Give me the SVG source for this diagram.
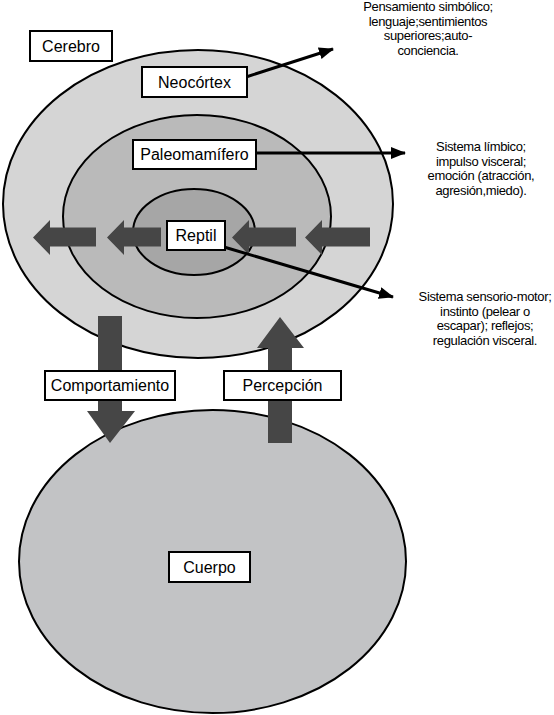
<svg xmlns="http://www.w3.org/2000/svg" width="554" height="715" viewBox="0 0 554 715">
<defs>
<style>
.ell{stroke:#000;stroke-width:2}
.box{fill:#fff;stroke:#000;stroke-width:2}
.lbl{font-family:"Liberation Sans",Arial,sans-serif;font-size:16px;fill:#000;text-anchor:middle}
.note{font-family:"Liberation Sans",Arial,sans-serif;font-size:13px;fill:#000;text-anchor:middle;letter-spacing:-0.35px}
.fat{fill:#464646}
.line{stroke:#000;stroke-width:3;fill:none;marker-end:url(#ah)}
</style>
<marker id="ah" markerUnits="userSpaceOnUse" markerWidth="16" markerHeight="12" refX="14" refY="6" orient="auto">
<path d="M0,0 L15,6 L0,12 Z" fill="#000"/>
</marker>
</defs>
<rect width="554" height="715" fill="#fff"/>

<g id="cerebro">
<ellipse class="ell" cx="198" cy="204" rx="195" ry="154" fill="#d5d5d5"/>
</g>
<g id="paleomamifero">
<ellipse class="ell" cx="197" cy="216.5" rx="134" ry="101.5" fill="#bababa"/>
</g>
<g id="reptil">
<ellipse class="ell" cx="194" cy="232" rx="61" ry="43" fill="#a6a6a6"/>
</g>
<g id="cuerpo">
<ellipse class="ell" cx="212.5" cy="561.5" rx="193.5" ry="151.5" fill="#c2c3c5"/>
</g>

<g id="connectors">
<path class="fat" d="M33,237.5 L50,220 L50,227.5 L96,227.5 L96,246.5 L50,246.5 L50,255 Z"/>
<path class="fat" d="M107,237.5 L124,220 L124,227.5 L161,227.5 L161,246.5 L124,246.5 L124,255 Z"/>
<path class="fat" d="M232,237.5 L249,220 L249,227.5 L296,227.5 L296,246.5 L249,246.5 L249,255 Z"/>
<path class="fat" d="M305,237.5 L322,220 L322,227.5 L370,227.5 L370,246.5 L322,246.5 L322,255 Z"/>
<path class="fat" d="M98,316 L122,316 L122,411 L135,411 L110,443 L87,411 L98,411 Z"/>
<path class="fat" d="M268,443 L292,443 L292,348 L304,348 L280,317 L257,348 L268,348 Z"/>
<line class="line" x1="246" y1="77" x2="333" y2="49"/>
<line class="line" x1="255" y1="153" x2="405" y2="153"/>
<line class="line" x1="224" y1="247" x2="393" y2="297"/>
</g>

<g id="label-cerebro">
<rect class="box" x="30" y="31" width="82" height="30"/>
<text class="lbl" x="71" y="51.5">Cerebro</text>
</g>
<g id="label-neocortex">
<rect class="box" x="142" y="67" width="105" height="30"/>
<text class="lbl" x="194.5" y="87.5">Neocórtex</text>
</g>
<g id="label-paleomamifero">
<rect class="box" x="133" y="140" width="123" height="29"/>
<text class="lbl" x="194.5" y="160">Paleomamífero</text>
</g>
<g id="label-reptil">
<rect class="box" x="167" y="221" width="58" height="29"/>
<text class="lbl" x="196" y="241">Reptil</text>
</g>
<g id="label-comportamiento">
<rect class="box" x="45" y="371" width="130" height="29"/>
<text class="lbl" x="110" y="391">Comportamiento</text>
</g>
<g id="label-percepcion">
<rect class="box" x="224" y="371" width="117" height="29"/>
<text class="lbl" x="282.5" y="391">Percepción</text>
</g>
<g id="label-cuerpo">
<rect class="box" x="169" y="552" width="81" height="30"/>
<text class="lbl" x="209.5" y="572.5">Cuerpo</text>
</g>

<g id="note-neocortex">
<text class="note" x="428" y="11">Pensamiento simbólico;</text>
<text class="note" x="428" y="25.5">lenguaje;sentimientos</text>
<text class="note" x="428" y="40">superiores;auto-</text>
<text class="note" x="428" y="54.5">conciencia.</text>
</g>
<g id="note-paleomamifero">
<text class="note" x="481" y="151">Sistema límbico;</text>
<text class="note" x="481" y="165.5">impulso visceral;</text>
<text class="note" x="481" y="180">emoción (atracción,</text>
<text class="note" x="481" y="194.5">agresión,miedo).</text>
</g>
<g id="note-reptil">
<text class="note" x="485" y="301">Sistema sensorio-motor;</text>
<text class="note" x="485" y="315.5">instinto (pelear o</text>
<text class="note" x="485" y="330">escapar); reflejos;</text>
<text class="note" x="485" y="344.5">regulación visceral.</text>
</g>
</svg>
